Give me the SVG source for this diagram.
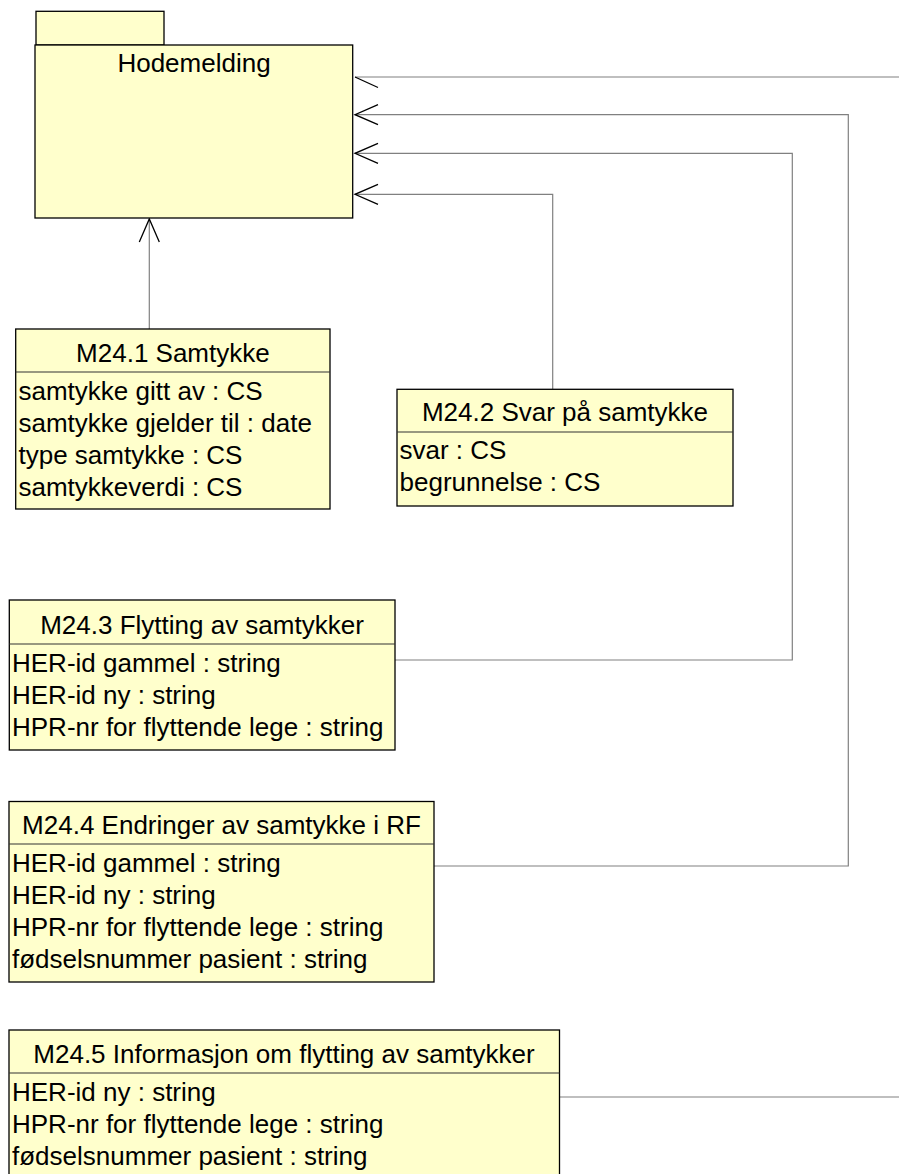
<svg xmlns="http://www.w3.org/2000/svg" width="899" height="1174" viewBox="0 0 899 1174">
  <style>
    .box { fill: #ffffcc; stroke: #000000; stroke-width: 1.3; }
    .sep { stroke: #333333; stroke-width: 1.2; }
    .t { font-family: "Liberation Sans", Arial, sans-serif; font-size: 26px; fill: #000000; }
    .h { text-anchor: middle; }
    .conn { fill: none; stroke: #808080; stroke-width: 1.2; }
    .head { fill: none; stroke: #000000; stroke-width: 1.3; }
  </style>
  <defs>
    <marker id="openArrow" markerUnits="userSpaceOnUse" markerWidth="40" markerHeight="40" viewBox="-30 -15 40 30" refX="0" refY="0" orient="auto" overflow="visible">
      <path d="M-23,-10 L0,0 L-23,10" fill="none" stroke="#000000" stroke-width="1.3"/>
    </marker>
  </defs>

  <g id="connectors">
    <path id="c-m241" class="conn" d="M149.3,329 V219" marker-end="url(#openArrow)"/>
    <path id="c-m242" class="conn" d="M552.7,389 V194.3 H355" marker-end="url(#openArrow)"/>
    <path id="c-m243" class="conn" d="M395,660 H792.3 V153.3 H355" marker-end="url(#openArrow)"/>
    <path id="c-m244" class="conn" d="M434,866 H848.3 V114.7 H355" marker-end="url(#openArrow)"/>
    <path id="c-m245" class="conn" d="M559.5,1097 H910 V77 H355"/>
    <path class="head" d="M355,77 L378,87.5"/>
  </g>

  <g id="hodemelding">
    <rect class="box" x="36" y="11.3" width="128" height="33.7"/>
    <rect class="box" x="35" y="45" width="317.7" height="173"/>
    <text class="t h" x="194" y="72">Hodemelding</text>
  </g>

  <g id="m24-1">
    <rect class="box" x="15.7" y="329" width="314.3" height="180"/>
    <line class="sep" x1="15.7" y1="372" x2="330" y2="372"/>
    <text class="t h" x="172.9" y="362">M24.1 Samtykke</text>
    <text class="t" x="18.5" y="400">samtykke gitt av : CS</text>
    <text class="t" x="18.5" y="432">samtykke gjelder til : date</text>
    <text class="t" x="18.5" y="464">type samtykke : CS</text>
    <text class="t" x="18.5" y="496">samtykkeverdi : CS</text>
  </g>

  <g id="m24-2">
    <rect class="box" x="397" y="389.3" width="336" height="116.7"/>
    <line class="sep" x1="397" y1="432" x2="733" y2="432"/>
    <text class="t h" x="565" y="421">M24.2 Svar på samtykke</text>
    <text class="t" x="399.5" y="459">svar : CS</text>
    <text class="t" x="399.5" y="491">begrunnelse : CS</text>
  </g>

  <g id="m24-3">
    <rect class="box" x="9.3" y="600" width="385.7" height="150"/>
    <line class="sep" x1="9.3" y1="644" x2="395" y2="644"/>
    <text class="t h" x="202" y="634">M24.3 Flytting av samtykker</text>
    <text class="t" x="12" y="672">HER-id gammel : string</text>
    <text class="t" x="12" y="704">HER-id ny : string</text>
    <text class="t" x="12" y="736">HPR-nr for flyttende lege : string</text>
  </g>

  <g id="m24-4">
    <rect class="box" x="9" y="801.5" width="425" height="180.5"/>
    <line class="sep" x1="9" y1="844" x2="434" y2="844"/>
    <text class="t h" x="221.5" y="834">M24.4 Endringer av samtykke i RF</text>
    <text class="t" x="12" y="872">HER-id gammel : string</text>
    <text class="t" x="12" y="904">HER-id ny : string</text>
    <text class="t" x="12" y="936">HPR-nr for flyttende lege : string</text>
    <text class="t" x="12" y="968">fødselsnummer pasient : string</text>
  </g>

  <g id="m24-5">
    <rect class="box" x="9" y="1030" width="550.5" height="150"/>
    <line class="sep" x1="9" y1="1073" x2="559.5" y2="1073"/>
    <text class="t h" x="284" y="1063">M24.5 Informasjon om flytting av samtykker</text>
    <text class="t" x="12" y="1101">HER-id ny : string</text>
    <text class="t" x="12" y="1133">HPR-nr for flyttende lege : string</text>
    <text class="t" x="12" y="1165">fødselsnummer pasient : string</text>
  </g>
</svg>
